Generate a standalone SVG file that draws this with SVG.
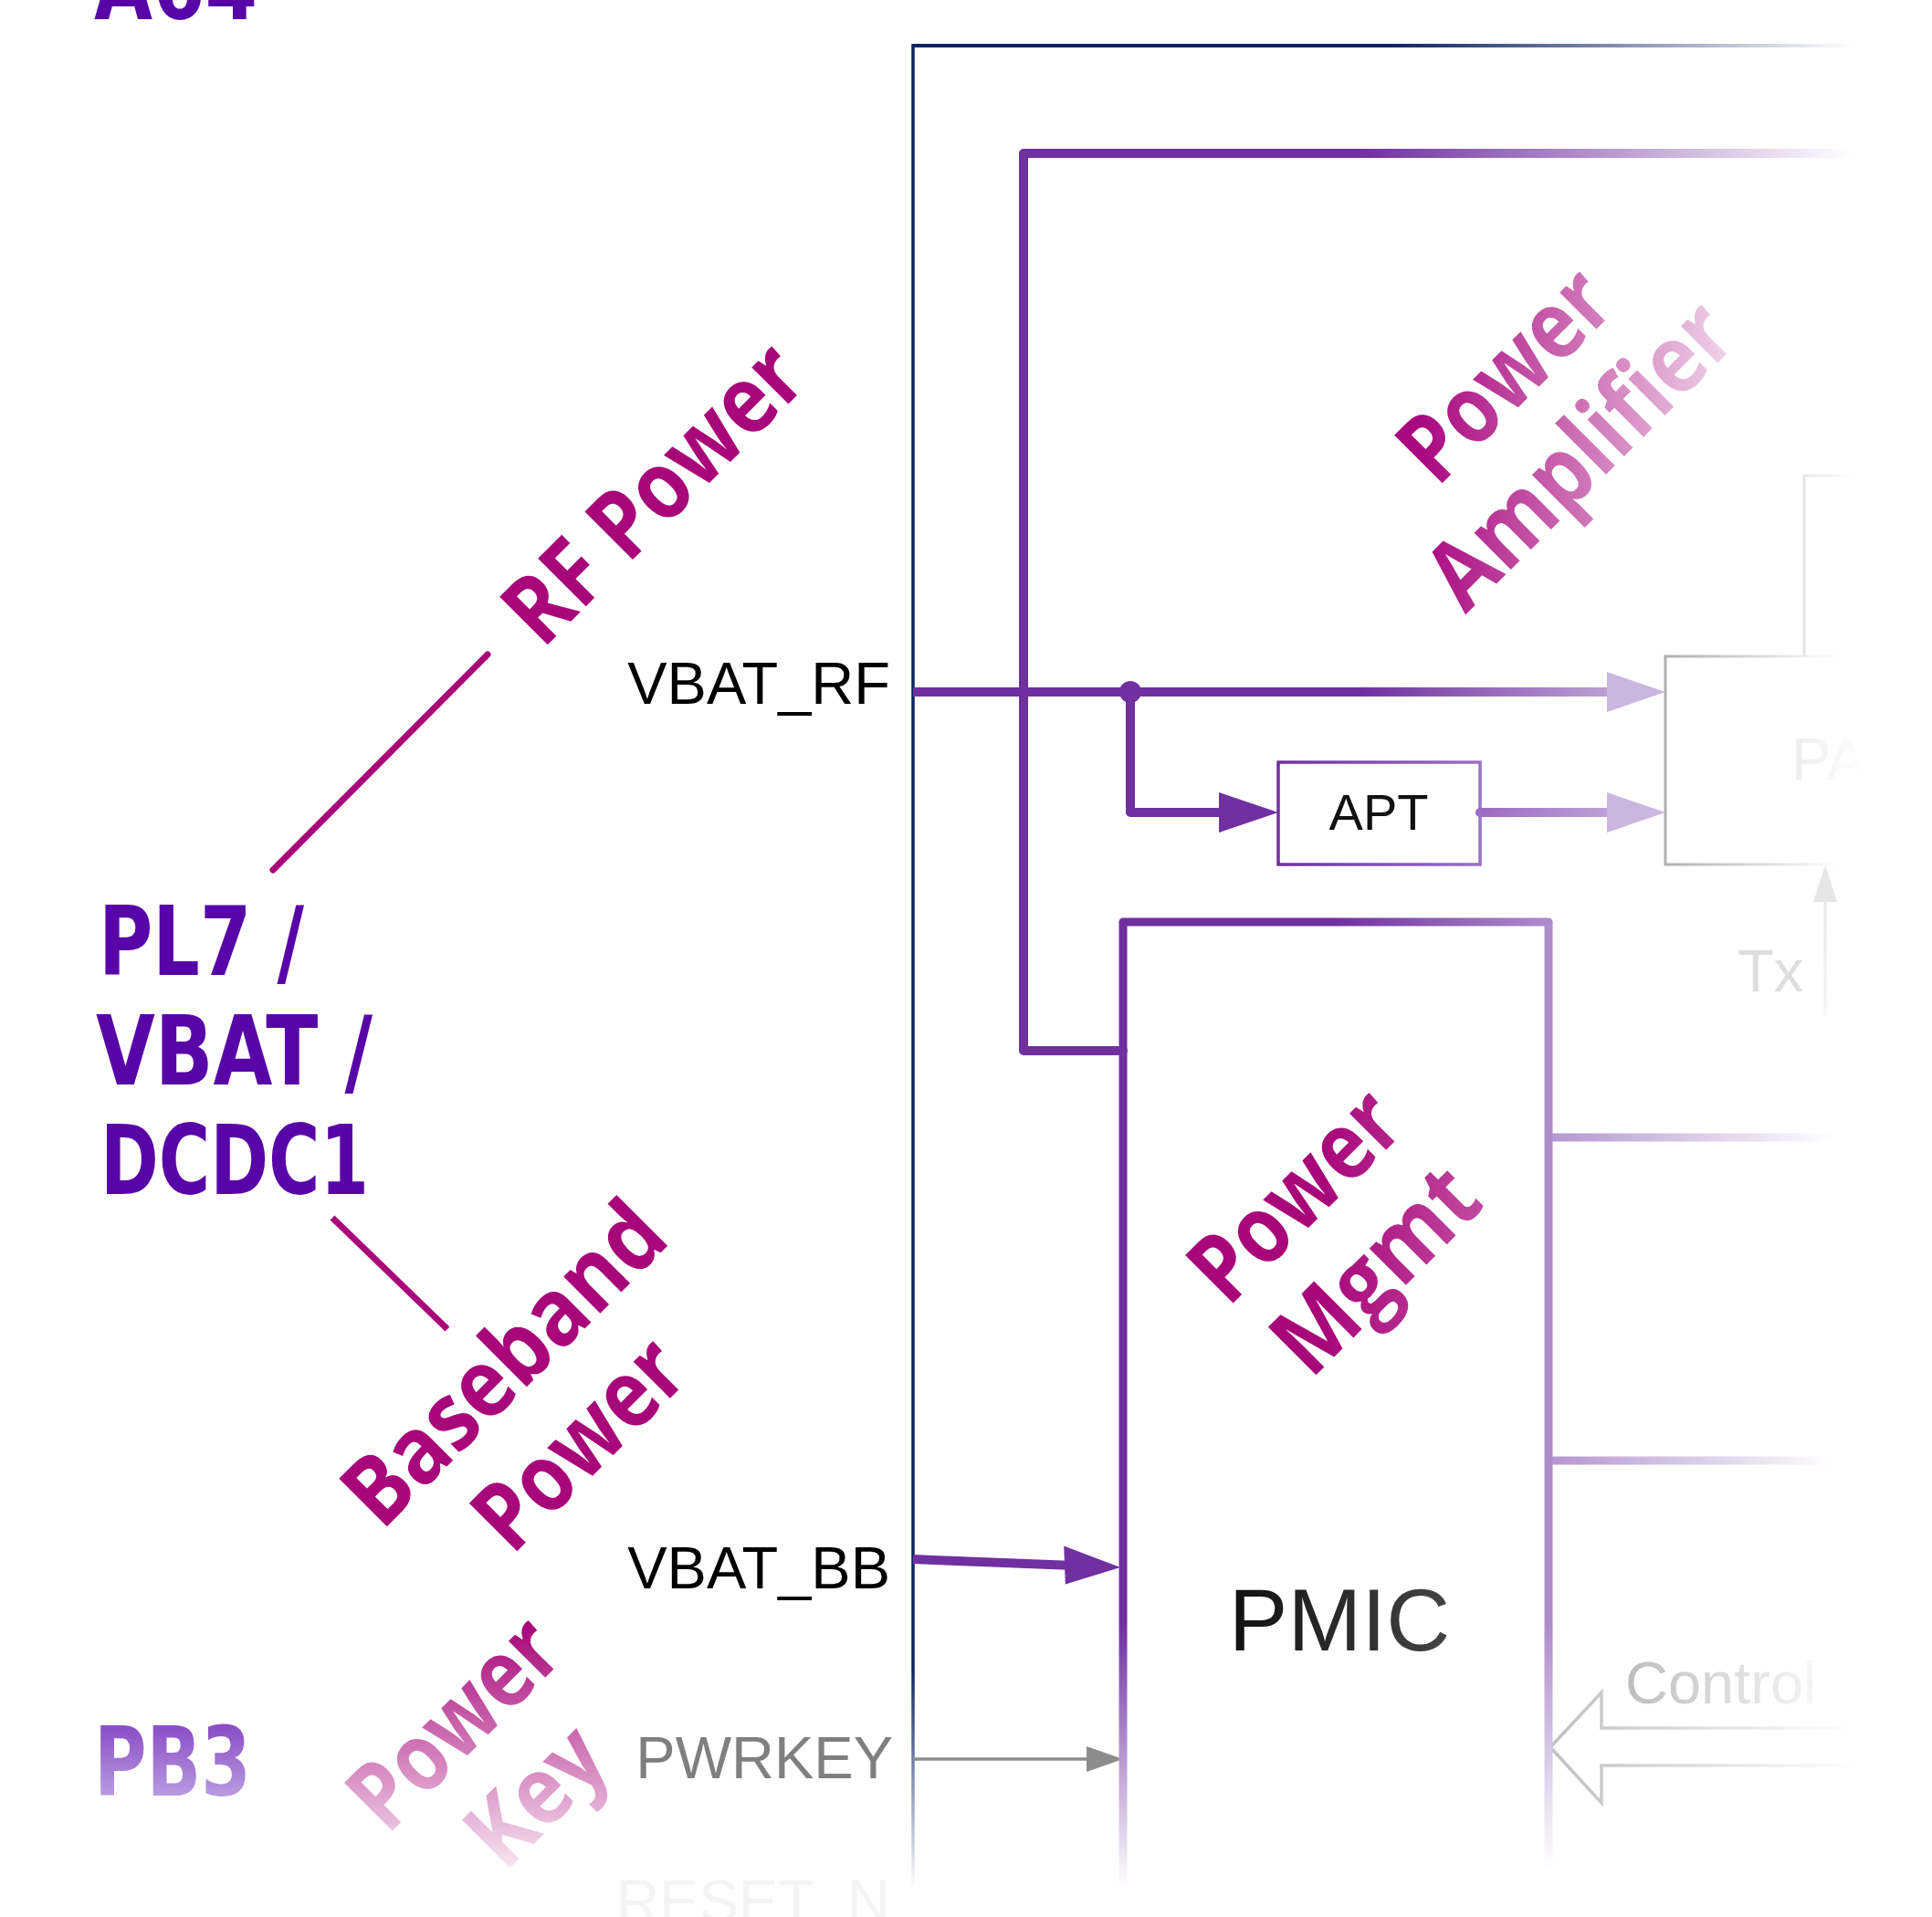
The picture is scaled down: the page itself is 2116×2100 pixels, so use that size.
<svg xmlns="http://www.w3.org/2000/svg" width="2116" height="2100" viewBox="0 0 2116 2100">
<style>
.big{font-family:"Liberation Sans Narrow","DejaVu Sans Condensed","Liberation Sans",sans-serif;font-weight:bold;font-size:106px}
.rot{font-family:"Open Sans","Liberation Sans",sans-serif;font-weight:bold;font-size:104px}
.lbl{font-family:"Liberation Sans",Arial,sans-serif}
.thick{fill:none;stroke:#7030a0;stroke-width:10;stroke-linecap:round;stroke-linejoin:round}
</style>
<defs>
<linearGradient id="gNavyH" gradientUnits="userSpaceOnUse" x1="1520" y1="0" x2="2030" y2="0"><stop offset="0" stop-color="#0d2260"/><stop offset="1" stop-color="#ffffff"/></linearGradient>
<linearGradient id="gNavyV" gradientUnits="userSpaceOnUse" x1="0" y1="48" x2="0" y2="2070"><stop offset="0" stop-color="#0d2260"/><stop offset="0.881" stop-color="#0d2260"/><stop offset="1" stop-color="#ffffff"/></linearGradient>
<linearGradient id="gTop" gradientUnits="userSpaceOnUse" x1="1490" y1="0" x2="2028" y2="0"><stop offset="0" stop-color="#7030a0"/><stop offset="1" stop-color="#ffffff"/></linearGradient>
<linearGradient id="gRF" gradientUnits="userSpaceOnUse" x1="1000" y1="0" x2="1824" y2="0"><stop offset="0" stop-color="#7030a0"/><stop offset="0.595" stop-color="#7030a0"/><stop offset="1" stop-color="#cdb9e0"/></linearGradient>
<linearGradient id="gAptOut" gradientUnits="userSpaceOnUse" x1="1621" y1="0" x2="1824" y2="0"><stop offset="0" stop-color="#9a6ac2"/><stop offset="1" stop-color="#cdb9e0"/></linearGradient>
<linearGradient id="gApt" gradientUnits="userSpaceOnUse" x1="1400" y1="0" x2="1621" y2="0"><stop offset="0" stop-color="#7030a0"/><stop offset="1" stop-color="#9b70c6"/></linearGradient>
<linearGradient id="gPmicTop" gradientUnits="userSpaceOnUse" x1="1460" y1="0" x2="1696" y2="0"><stop offset="0" stop-color="#7030a0"/><stop offset="1" stop-color="#ae8ccb"/></linearGradient>
<linearGradient id="gPmicL" gradientUnits="userSpaceOnUse" x1="0" y1="1010" x2="0" y2="2068"><stop offset="0" stop-color="#7030a0"/><stop offset="0.728" stop-color="#7030a0"/><stop offset="1" stop-color="#ffffff"/></linearGradient>
<linearGradient id="gPmicR" gradientUnits="userSpaceOnUse" x1="0" y1="1010" x2="0" y2="2050"><stop offset="0" stop-color="#ae8ccb"/><stop offset="0.74" stop-color="#ae8ccb"/><stop offset="1" stop-color="#ffffff"/></linearGradient>
<linearGradient id="gOut" gradientUnits="userSpaceOnUse" x1="1696" y1="0" x2="2010" y2="0"><stop offset="0" stop-color="#b496d0"/><stop offset="1" stop-color="#ffffff"/></linearGradient>
<linearGradient id="gPA" gradientUnits="userSpaceOnUse" x1="1824" y1="0" x2="2015" y2="0"><stop offset="0" stop-color="#b0b0b0"/><stop offset="1" stop-color="#ffffff"/></linearGradient>
<linearGradient id="gPAtext" gradientUnits="userSpaceOnUse" x1="1962" y1="0" x2="2040" y2="0"><stop offset="0" stop-color="#ececec"/><stop offset="1" stop-color="#ffffff"/></linearGradient>
<linearGradient id="gFaint" gradientUnits="userSpaceOnUse" x1="1976" y1="0" x2="2030" y2="0"><stop offset="0" stop-color="#e6e6e6"/><stop offset="1" stop-color="#ffffff"/></linearGradient>
<linearGradient id="gTx" gradientUnits="userSpaceOnUse" x1="0" y1="950" x2="0" y2="1115"><stop offset="0" stop-color="#e2e2e2"/><stop offset="1" stop-color="#f6f6f6"/></linearGradient>
<linearGradient id="gCtrl" gradientUnits="userSpaceOnUse" x1="1698" y1="0" x2="2030" y2="0"><stop offset="0" stop-color="#c0c0c0"/><stop offset="1" stop-color="#ffffff"/></linearGradient>
<linearGradient id="gCtrlT" gradientUnits="userSpaceOnUse" x1="1780" y1="0" x2="1986" y2="0"><stop offset="0" stop-color="#bdbdbd"/><stop offset="1" stop-color="#f5f5f5"/></linearGradient>
<linearGradient id="gPMIC" gradientUnits="userSpaceOnUse" x1="1348" y1="0" x2="1586" y2="0"><stop offset="0" stop-color="#111111"/><stop offset="1" stop-color="#444444"/></linearGradient>
<linearGradient id="gPB3" gradientUnits="userSpaceOnUse" x1="0" y1="1890" x2="0" y2="1967"><stop offset="0" stop-color="#8a4cc6"/><stop offset="1" stop-color="#b89be0"/></linearGradient>
<linearGradient id="gAmp" gradientUnits="userSpaceOnUse" x1="-10" y1="-10" x2="245" y2="245"><stop offset="0" stop-color="#aa0a80"/><stop offset="1" stop-color="#f5e3f1"/></linearGradient>
<linearGradient id="gMgmt" gradientUnits="userSpaceOnUse" x1="74" y1="74" x2="209" y2="209"><stop offset="0" stop-color="#a8077a"/><stop offset="1" stop-color="#c350a3"/></linearGradient>
<linearGradient id="gKey" gradientUnits="userSpaceOnUse" x1="163" y1="-163" x2="-35" y2="35"><stop offset="0" stop-color="#a8077a"/><stop offset="1" stop-color="#fbf1f8"/></linearGradient>
</defs>

<g id="connectors">
  <path d="M1000,50 H2030" fill="none" stroke="url(#gNavyH)" stroke-width="4"/>
  <path d="M1000,48 V2070" fill="none" stroke="url(#gNavyV)" stroke-width="3.5"/>
  <path d="M1121,168 H2028" fill="none" stroke="url(#gTop)" stroke-width="10"/>
  <path class="thick" d="M1121,168 V1151 H1230"/>
  <path d="M1000,758 H1762" fill="none" stroke="url(#gRF)" stroke-width="10"/>
  <polygon points="1760,736 1824,758 1760,780" fill="#cbb6df"/>
  <circle cx="1238" cy="758" r="12" fill="#7030a0"/>
  <path class="thick" d="M1238,758 V890 H1338"/>
  <polygon points="1335,868 1400,890 1335,912" fill="#7030a0"/>
  <path d="M1621,890 H1762" fill="none" stroke="url(#gAptOut)" stroke-width="10" stroke-linecap="round"/>
  <polygon points="1760,868 1824,890 1760,912" fill="#cbb6df"/>
  <path d="M1696,1246 H2010" fill="none" stroke="url(#gOut)" stroke-width="9"/>
  <path d="M1696,1600 H2010" fill="none" stroke="url(#gOut)" stroke-width="9"/>
  <path d="M1000,1708 L1170,1714.8" fill="none" stroke="#7030a0" stroke-width="10"/>
  <polygon points="1227,1717 1166.8,1735.6 1165.2,1693.6" fill="#7030a0"/>
  <path d="M1000,1927 H1194" fill="none" stroke="#8c8c8c" stroke-width="3.5"/>
  <polygon points="1190,1913 1230,1927 1190,1941" fill="#8c8c8c"/>
  <path d="M1999,1113 V985" fill="none" stroke="url(#gTx)" stroke-width="3"/>
  <polygon points="1999,948 2012,988 1986,988" fill="#e6e6e6"/>
  <path d="M2030,1893 H1754 V1854 L1698,1914 L1754,1975 V1934 H2030" fill="none" stroke="url(#gCtrl)" stroke-width="3.5"/>
  <path d="M299,953 L534,717" stroke="#a8077a" stroke-width="7" stroke-linecap="round"/>
  <path d="M364,1334 L490,1456" stroke="#a8077a" stroke-width="7"/>
</g>

<g id="pa-block">
  <path d="M2015,719 H1824 V947 H2015" fill="none" stroke="url(#gPA)" stroke-width="3"/>
  <path d="M1976,719 V521 H2030" fill="none" stroke="url(#gFaint)" stroke-width="3"/>
  <text class="lbl" x="1962" y="854" style="font-size:65px;fill:url(#gPAtext)">PA</text>
</g>

<g id="apt">
  <rect x="1400" y="835" width="221" height="112" fill="none" stroke="url(#gApt)" stroke-width="3.5"/>
  <text class="lbl" x="1510" y="909" text-anchor="middle" style="font-size:56px;fill:#111">APT</text>
</g>

<g id="pmic">
  <path d="M1230,1010 H1696" fill="none" stroke="url(#gPmicTop)" stroke-width="9" stroke-linecap="round"/>
  <path d="M1230,1010 V2068" fill="none" stroke="url(#gPmicL)" stroke-width="9"/>
  <path d="M1696,1010 V2050" fill="none" stroke="url(#gPmicR)" stroke-width="9"/>
  <text class="lbl" x="1467" y="1808" text-anchor="middle" style="font-size:97px;fill:url(#gPMIC)">PMIC</text>
  <g transform="translate(1345,1433) rotate(-45)" style="fill:url(#gMgmt)">
    <text class="rot" x="0" y="0" textLength="278" lengthAdjust="spacingAndGlyphs">Power</text>
    <text class="rot" x="8" y="120" textLength="272" lengthAdjust="spacingAndGlyphs">Mgmt</text>
  </g>
</g>

<g id="labels">
  <text class="big" x="103" y="21" textLength="179" lengthAdjust="spacingAndGlyphs" style="fill:#5805a8">A64</text>
  <text class="big" x="108" y="1068" textLength="225" lengthAdjust="spacingAndGlyphs" style="fill:#5805a8">PL7 /</text>
  <text class="big" x="105" y="1188" textLength="303" lengthAdjust="spacingAndGlyphs" style="fill:#5805a8">VBAT /</text>
  <text class="big" x="110" y="1308" textLength="294" lengthAdjust="spacingAndGlyphs" style="fill:#5805a8">DCDC1</text>
  <text class="big" x="103" y="1967" textLength="172" lengthAdjust="spacingAndGlyphs" style="fill:url(#gPB3)">PB3</text>
  <text class="lbl" x="975" y="771" text-anchor="end" style="font-size:65px;fill:#000">VBAT_RF</text>
  <text class="lbl" x="975" y="1740" text-anchor="end" style="font-size:65px;fill:#000">VBAT_BB</text>
  <text class="lbl" x="978" y="1948" text-anchor="end" style="font-size:65px;fill:#7f7f7f">PWRKEY</text>
  <text class="lbl" x="975" y="2105" text-anchor="end" style="font-size:65px;fill:#f4f4f4">RESET_N</text>
  <text class="lbl" x="1903" y="1086" style="font-size:65px;fill:#dedede">Tx</text>
  <text class="lbl" x="1780" y="1866" style="font-size:65px;fill:url(#gCtrlT)">Control</text>
</g>

<g id="rf-power" transform="translate(594,712) rotate(-45)" style="fill:#a8077a">
  <text class="rot" x="0" y="0" textLength="415" lengthAdjust="spacingAndGlyphs">RF Power</text>
</g>

<g id="power-amplifier" transform="translate(1574,535) rotate(-45)" style="fill:url(#gAmp)">
  <text class="rot" x="0" y="0" textLength="280" lengthAdjust="spacingAndGlyphs">Power</text>
  <text class="rot" x="-76" y="120" textLength="425" lengthAdjust="spacingAndGlyphs">Amplifier</text>
</g>

<g id="baseband-power" transform="translate(418,1678) rotate(-45)" style="fill:#a8077a">
  <text class="rot" x="0" y="0" textLength="450" lengthAdjust="spacingAndGlyphs">Baseband</text>
  <text class="rot" x="82" y="120" textLength="278" lengthAdjust="spacingAndGlyphs">Power</text>
</g>

<g id="power-key" transform="translate(424,2011) rotate(-45)" style="fill:url(#gKey)">
  <text class="rot" x="0" y="0" textLength="278" lengthAdjust="spacingAndGlyphs">Power</text>
  <text class="rot" x="62" y="120" textLength="168" lengthAdjust="spacingAndGlyphs">Key</text>
</g>
</svg>
